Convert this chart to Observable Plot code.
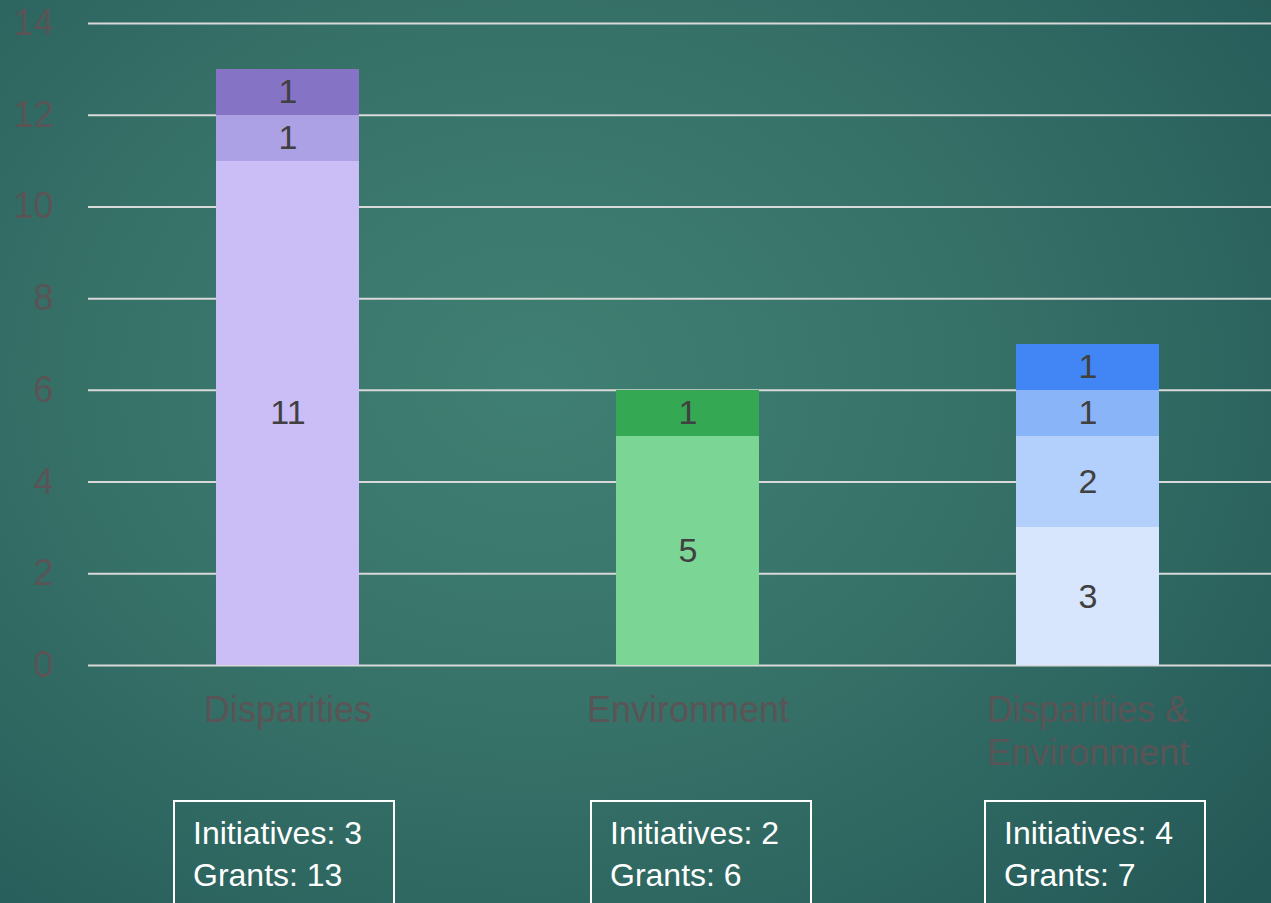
<!DOCTYPE html>
<html>
<head>
<meta charset="utf-8">
<script src="https://cdn.jsdelivr.net/npm/d3@7"></script>
<script src="https://cdn.jsdelivr.net/npm/@observablehq/plot@0.6"></script>
<style>
  html, body { margin: 0; padding: 0; }
  body {
    width: 1271px; height: 903px; overflow: hidden; position: relative;
    background: radial-gradient(ellipse 75% 85% at 42% 42%, #407f73 0%, #377268 45%, #2b625e 80%, #245856 100%);
    font-family: "Liberation Sans", Arial, sans-serif;
  }
  #chart { position: absolute; left: 0; top: 0; }
  #chart rect { shape-rendering: crispEdges; }
  .box {
    position: absolute; top: 800px; width: 222px; height: 120px;
    border: 2px solid #ffffff; box-sizing: border-box;
    color: #ffffff; font-size: 32px; line-height: 42px;
    padding: 10px 0 0 18px;
  }
</style>
</head>
<body>
<div id="chart"></div>
<div id="boxes"></div>
<script>
// ---- data ----
const categories = ["Disparities", "Environment", "Disparities & Environment"];
const categoryLabels = ["Disparities", "Environment", "Disparities &\nEnvironment"];
const segmentValues = [
  [11, 1, 1],
  [5, 1],
  [3, 2, 1, 1]
];
const segmentColors = [
  ["#cbbdf6", "#ada1e6", "#8573c6"],
  ["#7bd695", "#34a853"],
  ["#d7e5fd", "#b3cffb", "#8ab4f8", "#4285f4"]
];
const initiatives = [3, 2, 4];
const grants = [13, 6, 7];
const yTicks = [0, 2, 4, 6, 8, 10, 12, 14];

// ---- table ----
const rows = [];
categories.forEach((c, i) => {
  segmentValues[i].forEach((v, j) => {
    rows.push({category: c, seg: j, value: v, color: segmentColors[i][j]});
  });
});

const labelColor = "#5a5456";

const chart = Plot.plot({
  width: 1271,
  height: 903,
  marginLeft: 88,
  marginRight: 0,
  marginTop: 23,
  marginBottom: 238,
  style: {background: "transparent", fontFamily: "'Liberation Sans', Arial, sans-serif", overflow: "visible"},
  x: {domain: categories, range: [87, 1287], paddingInner: 0.6425, paddingOuter: 0.32, label: null},
  y: {domain: [0, 14], label: null},
  color: {type: "identity"},
  marks: [
    Plot.ruleY(yTicks, {stroke: "#d9d9d9", strokeWidth: 2}),
    Plot.barY(rows, {x: "category", y: "value", fill: "color", order: null}),
    Plot.text(rows, Plot.stackY({x: "category", y: "value", text: d => String(d.value), fill: "#404040", fontSize: 34, order: null})),
    Plot.axisY({ticks: yTicks, tickSize: 0, tickPadding: 35, fontSize: 36, fill: labelColor, textAnchor: "end", label: null}),
    Plot.axisX({tickSize: 0, tickPadding: 26, fontSize: 36, fill: labelColor, lineHeight: 1.2, label: null,
      tickFormat: d => categoryLabels[categories.indexOf(d)]})
  ]
});
document.getElementById("chart").appendChild(chart);

// ---- summary boxes ----
const boxLeft = [173, 590, 984];
const boxes = document.getElementById("boxes");
categories.forEach((c, i) => {
  const div = document.createElement("div");
  div.className = "box";
  div.style.left = boxLeft[i] + "px";
  div.innerHTML = `Initiatives: ${initiatives[i]}<br>Grants: ${grants[i]}`;
  boxes.appendChild(div);
});
</script>
</body>
</html>
